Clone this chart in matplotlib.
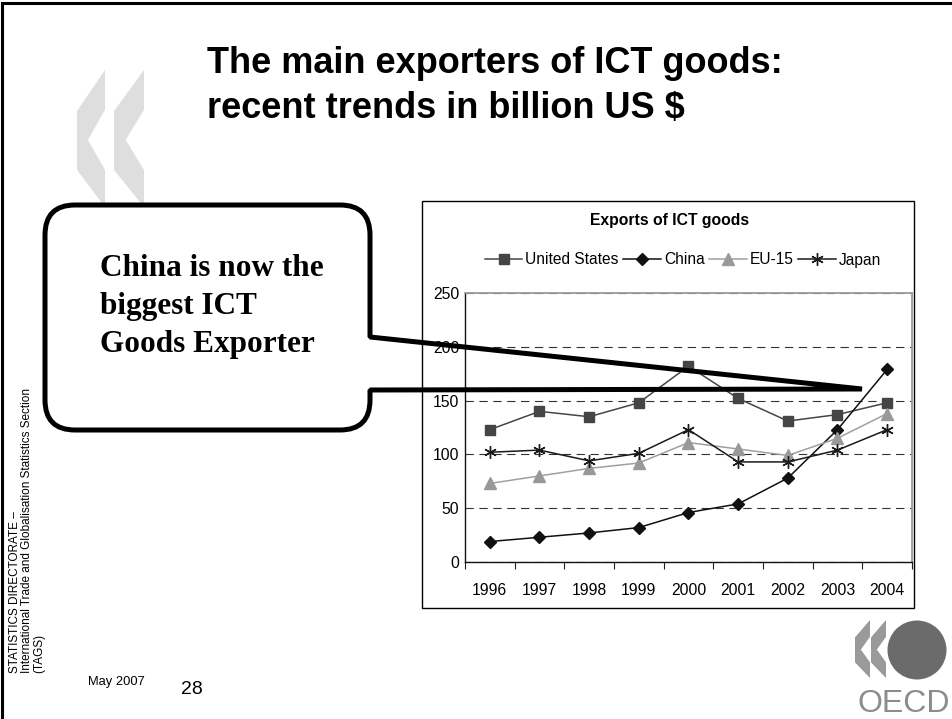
import matplotlib
matplotlib.use('Agg')
import matplotlib.pyplot as plt
import numpy as np
from matplotlib import font_manager
from matplotlib.patches import Polygon, Rectangle, Circle, PathPatch
from matplotlib.path import Path

# ICT goods exports, billion US $
years = ['1996', '1997', '1998', '1999', '2000', '2001', '2002', '2003', '2004']
united_states = [123, 140, 135, 148, 182, 152, 131, 137, 148]
china = [19, 23, 27, 32, 46, 54, 78, 123, 179]
eu15 = [73, 80, 87, 92, 111, 105, 99, 115, 138]
japan = [102, 104, 94, 101, 123, 93, 93, 104, 123]
y_ticks = [0, 50, 100, 150, 200, 250]

W, H = 953, 719
SANS = 'Liberation Sans'
SERIF = 'Liberation Serif'
plt.rcParams['lines.scale_dashes'] = False

fig = plt.figure(figsize=(W / 100, H / 100), dpi=100)


def px_axes(x0, y0, x1, y1, **kw):
    return fig.add_axes([x0 / W, 1 - y1 / H, (x1 - x0) / W, (y1 - y0) / H], **kw)


def chevron(ax, x, y, w, h, color):
    pts = [(1, 0), (1, 0.29), (0.39, 0.51), (1, 0.73), (1, 1), (0, 0.73), (0, 0.3)]
    ax.add_patch(Polygon([(x + px * w, y + py * h) for px, py in pts],
                         closed=True, facecolor=color, edgecolor='none'))


# slide background layer, pixel coordinates with y pointing down
bg = fig.add_axes([0, 0, 1, 1], zorder=0)
bg.set_xlim(0, W)
bg.set_ylim(H, 0)
bg.axis('off')

bg.plot([2.5, 2.5, W], [H, 2.5, 2.5], color='black', lw=2.2, clip_on=False,
        solid_joinstyle='miter')

chevron(bg, 77, 70, 28, 137, '#dedede')
chevron(bg, 114, 70, 30, 137, '#dedede')

bg.text(207, 73, 'The main exporters of ICT goods:', fontsize=26, fontweight='bold',
        family=SANS, va='baseline', ha='left')
bg.text(207, 118, 'recent trends in billion US $', fontsize=26, fontweight='bold',
        family=SANS, va='baseline', ha='left')

bg.text(27, 673, 'STATISTICS DIRECTORATE \u2013\n'
        'International Trade and Globalisation Statistics Section\n(TAGS)',
        rotation=90, fontsize=8.5, family=SANS, ha='center', va='bottom',
        multialignment='left', linespacing=1.05)
bg.text(88, 682, 'May 2007', fontsize=9.3, family=SANS, va='center', ha='left')
bg.text(181, 690, '28', fontsize=14, family=SANS, va='center', ha='left')

# OECD logo
chevron(bg, 855, 620, 15, 58, '#9a9a9a')
chevron(bg, 871, 620, 15, 58, '#9a9a9a')
bg.add_patch(Circle((917, 650), 29.5, facecolor='#6b6b6b', edgecolor='none'))
bg.text(858, 712, 'OECD', fontsize=23, family=SANS, color='#8c8c8c',
        va='baseline', ha='left')

# chart frame and title
bg.add_patch(Rectangle((422, 201), 914 - 422, 608 - 201, facecolor='white',
                       edgecolor='black', lw=1.0))
bg.text(670, 220, 'Exports of ICT goods', fontsize=11.3, fontweight='bold',
        family=SANS, ha='center', va='center')

# line chart
ax = px_axes(465, 293, 912, 562, zorder=1)
ax.set_facecolor('none')
x = np.arange(len(years))
series = [
    ('United States', united_states, '#454545', '#454545', 's', 7.5),
    ('China', china, '#111111', '#111111', 'D', 6),
    ('EU-15', eu15, '#a0a0a0', '#999999', '^', 8),
    ('Japan', japan, '#1a1a1a', '#1a1a1a', (6, 2, 0), 9),
]
handles = []
for label, vals, lc, mc, mk, ms in series:
    h, = ax.plot(x, vals, color=lc, lw=1.1, marker=mk, markersize=ms,
                 markerfacecolor=mc, markeredgecolor=mc, markeredgewidth=1.0,
                 label=label, clip_on=False, zorder=3)
    handles.append(h)

ax.set_xlim(-0.5, len(years) - 0.5)
ax.set_ylim(y_ticks[0], y_ticks[-1])
ax.set_yticks(y_ticks)
ax.set_xticks(x)
ax.set_xticklabels(years)
ax.set_xticks(np.arange(-0.5, len(years), 1), minor=True)
ax.tick_params(axis='x', which='major', length=0, pad=15)
ax.tick_params(axis='x', which='minor', length=5, width=0.8, direction='out', color='#222222')
ax.tick_params(axis='y', length=0, pad=4)
for lab in ax.get_xticklabels() + ax.get_yticklabels():
    lab.set_family(SANS)
    lab.set_fontsize(11.3)
ax.yaxis.grid(True, linestyle=(0, (6, 4)), color='#333333', lw=0.8)
ax.set_axisbelow(True)
for side in ['top', 'right']:
    ax.spines[side].set_color('#9a9a9a')
    ax.spines[side].set_linewidth(1.3)
for side in ['left', 'bottom']:
    ax.spines[side].set_color('#111111')
    ax.spines[side].set_linewidth(1.0)

leg = ax.legend(handles=handles, ncol=4, loc='center', bbox_to_anchor=(683, 260),
                bbox_transform=bg.transData, frameon=False, handlelength=2.4,
                handletextpad=0.2, columnspacing=0.3, borderaxespad=0,
                prop=font_manager.FontProperties(family=SANS, size=11.2))

# callout bubble with pointer, drawn above the chart
ov = fig.add_axes([0, 0, 1, 1], zorder=2)
ov.set_xlim(0, W)
ov.set_ylim(H, 0)
ov.axis('off')
ov.patch.set_alpha(0)
L, T, R, B, r = 45, 205, 370, 430, 30
tip = (862, 389)
verts = [(R, 390), (R, B - r), (R, B), (R - r, B), (L + r, B), (L, B), (L, B - r),
         (L, T + r), (L, T), (L + r, T), (R - r, T), (R, T), (R, T + r), (R, 337),
         tip, (R, 390)]
codes = [Path.MOVETO, Path.LINETO, Path.CURVE3, Path.CURVE3, Path.LINETO, Path.CURVE3,
         Path.CURVE3, Path.LINETO, Path.CURVE3, Path.CURVE3, Path.LINETO, Path.CURVE3,
         Path.CURVE3, Path.LINETO, Path.LINETO, Path.CLOSEPOLY]
ov.add_patch(PathPatch(Path(verts, codes), facecolor='none', edgecolor='black',
                       lw=3.6, joinstyle='bevel'))
for i, line in enumerate(['China is now the', 'biggest ICT', 'Goods Exporter']):
    ov.text(100, 276 + i * 38, line, fontsize=22.5, fontweight='bold', family=SERIF,
            va='baseline', ha='left')

fig.savefig('out.png', dpi=100)
